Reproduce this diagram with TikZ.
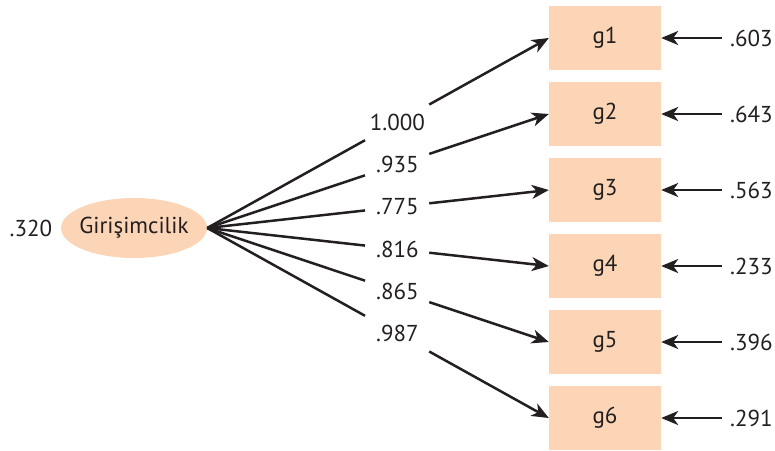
\documentclass[tikz,border=0pt]{standalone}
\usepackage{fontspec}
\setmainfont{PT Sans}
\usetikzlibrary{arrows.meta,shapes.geometric}
\definecolor{peach}{RGB}{251,213,181}
\definecolor{ink}{RGB}{35,31,32}
\begin{document}
\begin{tikzpicture}[x=1pt,y=-1pt,
  txt/.style={font=\fontsize{23}{27}\selectfont, text=ink, inner sep=0pt},
  obs/.style={txt, fill=peach, minimum width=112pt, minimum height=64pt},
  lat/.style={txt, ellipse, fill=peach, inner xsep=-25pt, inner ysep=0pt, minimum width=146pt, minimum height=60pt},
  conn/.style={draw=ink, line width=2.5pt},
  arr/.style={conn, -{Stealth[length=17pt, width=14pt, inset=5pt]}},
  errlbl/.style={txt, anchor=west, inner xsep=8pt}
]
\useasboundingbox (0,0) rectangle (775,450);
\node[lat] (F) at (134,228) {Girişimcilik};
\node[txt] (v) at (31,228) {.320};
\foreach \i/\y/\e in {1/38/.603, 2/114/.643, 3/190/.563, 4/266/.233, 5/342/.396, 6/418/.291}{
  \node[obs] (g\i) at (605,\y) {g\i};
  \node[errlbl] (e\i) at (722,\y) {\e};
  \draw[arr] (e\i.west) -- (g\i.east);
}
\foreach \i/\l in {1/1.000, 2/.935, 3/.775, 4/.816, 5/.865, 6/.987}{
  \path (F.east) -- (g\i.west)
    coordinate[pos=0.462] (a\i)
    coordinate[pos=0.650] (b\i)
    node[txt, pos=0.557] (l\i) {\l};
  \draw[conn] (F.east) -- (a\i);
  \draw[arr] (b\i) -- (g\i.west);
}
\end{tikzpicture}
\end{document}
